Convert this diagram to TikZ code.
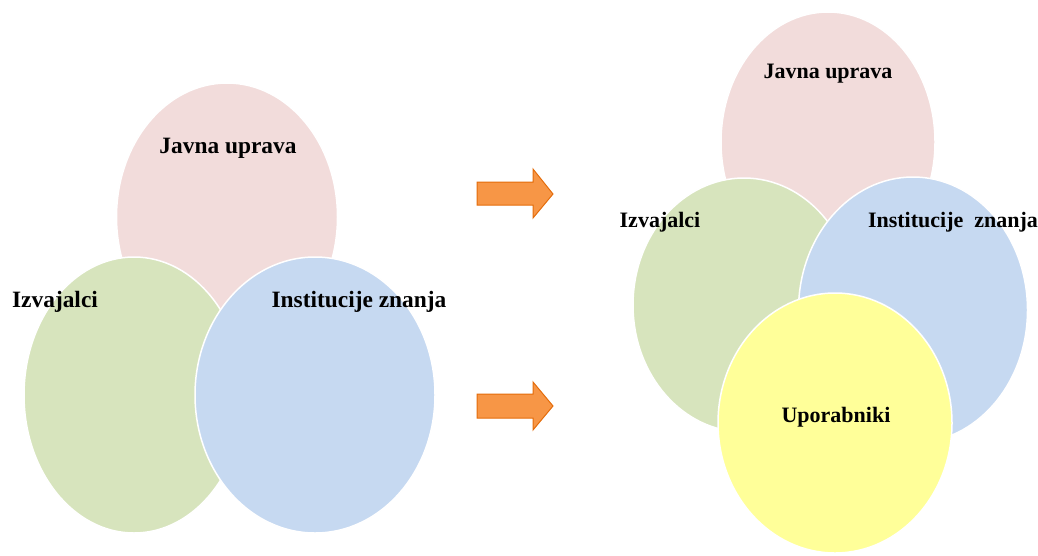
\documentclass[tikz,border=0pt]{standalone}
\usepackage{fontspec}
\setmainfont{Liberation Serif}
\usepackage{tikz}
\usetikzlibrary{shapes.geometric}
\usepackage{xcolor}

\definecolor{javna}{HTML}{F2DCDB}
\definecolor{izvaj}{HTML}{D7E4BD}
\definecolor{instit}{HTML}{C6D9F1}
\definecolor{upor}{HTML}{FFFF99}
\definecolor{arrfill}{HTML}{F79646}
\definecolor{arrline}{HTML}{E46C0A}

\tikzset{
  oval/.style={ellipse,draw=white,line width=1.5pt,inner sep=0pt},
  lbl/.style={inner sep=0pt,font=\fontsize{23.4}{28}\selectfont\bfseries},
  lblr/.style={inner sep=0pt,font=\fontsize{22}{26}\selectfont\bfseries},
  blockarrow/.style={fill=arrfill,draw=arrline,line width=1pt,line join=miter}
}

\begin{document}
\begin{tikzpicture}[x=1pt,y=-1pt]
\useasboundingbox (0,0) rectangle (1038,555);
% left group
\node[oval,fill=javna,minimum width=221pt,minimum height=268pt] (javnaL) at (227,217) {};
\node[oval,fill=izvaj,minimum width=220pt,minimum height=276pt] (izvajL) at (134,395) {};
\node[oval,fill=instit,minimum width=240pt,minimum height=276pt] (institL) at (315,395) {};
\node[lbl] (tjavnaL) at (228,148) {Javna uprava};
\node[lbl] (tizvajL) at (55,302) {Izvajalci};
\node[lbl] (tinstitL) at (359,302) {Institucije znanja};
% arrows
\draw[blockarrow] (477,182) -- (533,182) -- (533,169) -- (553,194) -- (533,218) -- (533,205) -- (477,205) -- cycle;
\draw[blockarrow] (477,394) -- (533,394) -- (533,382) -- (553,406) -- (533,430) -- (533,418) -- (477,418) -- cycle;
% right group
\node[oval,fill=javna,minimum width=214pt,minimum height=260pt] (javnaR) at (828,142) {};
\node[oval,fill=izvaj,minimum width=222pt,minimum height=254pt] (izvajR) at (744,305) {};
\node[oval,fill=instit,minimum width=229pt,minimum height=266pt] (institR) at (913,310) {};
\node[oval,fill=upor,minimum width=234pt,minimum height=260pt] (uporR) at (835,423) {};
\node[lblr] (tjavnaR) at (828,74) {Javna uprava};
\node[lblr] (tizvajR) at (660,222) {Izvajalci};
\node[lblr] (tinstitR) at (953,222) {Institucije \ znanja};
\node[lblr] (tuporR) at (836,417) {Uporabniki};
\end{tikzpicture}
\end{document}
